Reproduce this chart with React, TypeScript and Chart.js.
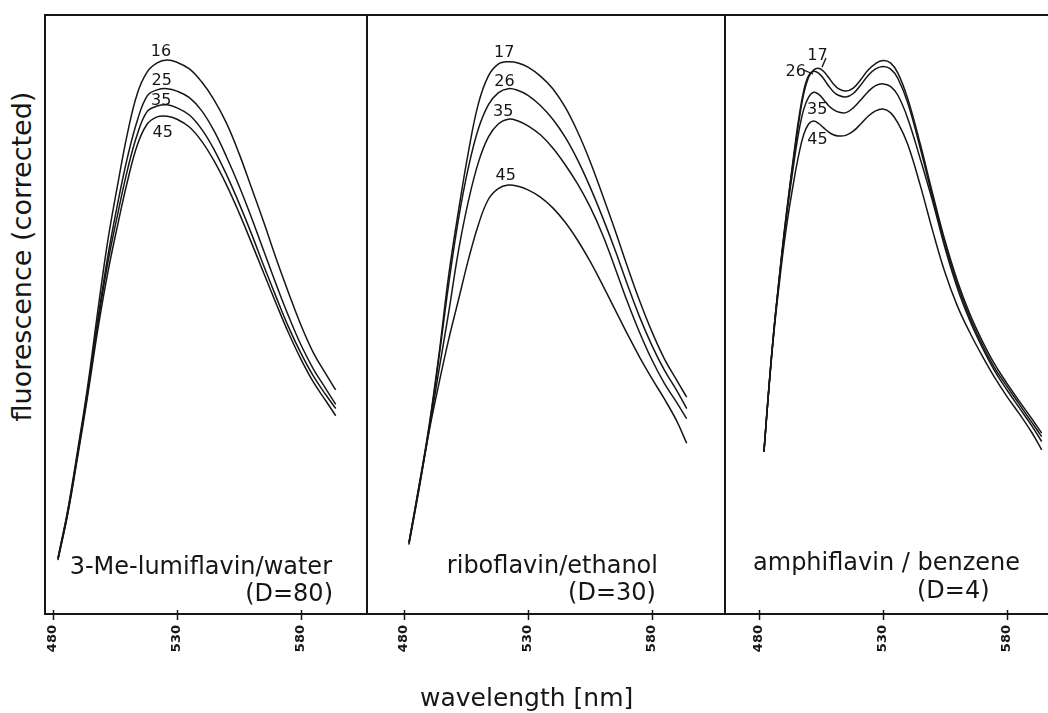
import React, { useEffect, useRef } from 'react';
import { Chart, registerables } from 'chart.js';

Chart.register(...registerables);

// ---------- text ----------
const Y_TITLE = 'fluorescence (corrected)';
const X_TITLE = 'wavelength [nm]';
const TICKS = [480, 530, 580];

// ---------- panel 1 : 3-Me-lumiflavin / water ----------
const WL_1 = [482, 486, 490, 494, 498, 502, 506, 510, 514, 518, 522, 526, 530, 535, 540, 545, 550, 555, 560, 565, 570, 575, 580, 585, 590, 594];
const P1_16 = [9.4, 17.5, 27.5, 38.1, 50.4, 62.1, 71.5, 80.2, 86.9, 90.5, 92.0, 92.5, 92.1, 91.0, 88.8, 85.8, 81.9, 76.9, 71.2, 65.4, 59.3, 53.6, 48.2, 43.6, 40.1, 37.4];
const P1_25 = [9.2, 17.2, 27.0, 37.4, 49.0, 59.5, 68.4, 76.2, 82.4, 86.5, 87.5, 87.7, 87.3, 86.2, 84.0, 80.6, 76.3, 71.5, 66.2, 60.6, 55.0, 49.7, 44.9, 40.9, 37.6, 35.0];
const P1_35 = [9.2, 17.0, 26.8, 37.0, 48.3, 58.4, 66.6, 74.1, 80.1, 83.9, 84.8, 85.0, 84.5, 83.3, 80.9, 77.5, 73.3, 68.6, 63.5, 58.1, 52.9, 47.9, 43.5, 39.7, 36.6, 34.3];
const P1_45 = [9.0, 16.8, 26.4, 36.5, 47.3, 56.8, 64.8, 72.2, 78.3, 81.8, 83.0, 83.1, 82.6, 81.3, 78.9, 75.6, 71.6, 67.0, 62.0, 56.9, 51.8, 46.9, 42.5, 38.7, 35.6, 33.1];
const P1_NAMES = ['16', '25', '35', '45'];
const P1_TAGS = [
  { text: '16', x: 523.5, y: 93.8 },
  { text: '25', x: 523.8, y: 89.0 },
  { text: '35', x: 523.6, y: 85.7 },
  { text: '45', x: 524.2, y: 80.3 },
];
const P1_CAPTION = [
  { text: '3-Me-lumiflavin/water', x: 592.5, y: 6.7, align: 'right' },
  { text: '(D=80)', x: 592.9, y: 2.2, align: 'right' },
];

// ---------- panel 2 : riboflavin / ethanol ----------
const WL_2 = [482, 486, 490, 494, 498, 502, 506, 510, 514, 518, 522, 526, 530, 535, 540, 545, 550, 555, 560, 565, 570, 575, 580, 585, 590, 594];
const P2_17 = [12.0, 21.3, 31.1, 43.0, 56.5, 67.4, 77.2, 85.2, 89.8, 91.8, 92.2, 92.0, 91.3, 89.8, 87.7, 84.6, 80.5, 75.6, 70.0, 64.2, 58.1, 52.3, 47.1, 42.6, 39.0, 36.2];
const P2_26 = [11.9, 21.1, 30.8, 42.5, 55.0, 66.0, 74.6, 81.0, 85.0, 87.0, 87.7, 87.4, 86.6, 84.9, 82.6, 79.6, 75.8, 71.3, 66.3, 60.9, 55.1, 49.6, 44.8, 40.7, 37.3, 34.3];
const P2_35 = [11.8, 20.9, 30.4, 40.5, 50.3, 60.7, 69.0, 75.4, 79.6, 81.8, 82.6, 82.3, 81.5, 80.0, 77.8, 75.0, 71.8, 68.0, 63.4, 57.9, 52.2, 47.0, 42.4, 38.5, 35.3, 32.6];
const P2_45 = [11.6, 20.7, 30.2, 38.3, 45.8, 52.5, 59.2, 65.0, 69.2, 71.0, 71.6, 71.4, 70.8, 69.6, 67.8, 65.4, 62.4, 58.9, 55.0, 50.9, 46.8, 42.9, 39.3, 35.9, 32.2, 28.5];
const P2_NAMES = ['17', '26', '35', '45'];
const P2_TAGS = [
  { text: '17', x: 520.4, y: 93.7 },
  { text: '26', x: 520.5, y: 88.9 },
  { text: '35', x: 520.0, y: 83.9 },
  { text: '45', x: 521.0, y: 73.2 },
];
const P2_CAPTION = [
  { text: 'riboflavin/ethanol', x: 582.4, y: 6.85, align: 'right' },
  { text: '(D=30)', x: 581.6, y: 2.34, align: 'right' },
];

// ---------- panel 3 : amphiflavin / benzene ----------
const WL_3 = [482, 484, 486, 488, 490, 492, 494, 496, 498, 500, 502, 504, 506, 508, 510, 512, 515, 518, 521, 524, 527, 530, 533, 536, 540, 545, 550, 555, 560, 565, 570, 575, 580, 585, 590, 594];
const P3_17 = [27.1, 37.9, 47.4, 55.4, 63.0, 69.8, 76.1, 82.0, 86.8, 89.6, 90.8, 91.1, 90.6, 89.6, 88.5, 87.7, 87.3, 87.8, 89.2, 90.8, 91.9, 92.4, 92.0, 90.3, 86.0, 78.5, 70.2, 62.3, 55.6, 50.1, 45.6, 41.7, 38.5, 35.5, 32.6, 30.2];
const P3_26 = [27.1, 37.9, 47.4, 55.5, 63.2, 70.1, 76.6, 82.6, 87.3, 89.9, 90.6, 90.3, 89.4, 88.2, 87.2, 86.6, 86.3, 86.9, 88.3, 89.9, 91.0, 91.4, 91.0, 89.4, 85.3, 77.8, 69.6, 61.7, 55.0, 49.5, 45.0, 41.1, 38.0, 35.0, 32.0, 29.6];
const P3_35 = [27.1, 37.9, 47.3, 55.2, 62.6, 69.2, 75.1, 80.4, 84.2, 86.3, 87.1, 86.8, 85.9, 84.9, 84.2, 83.8, 83.7, 84.5, 85.8, 87.2, 88.2, 88.5, 88.1, 86.6, 82.7, 76.0, 68.9, 61.1, 54.4, 49.0, 44.5, 40.6, 37.4, 34.4, 31.4, 28.8];
const P3_45 = [27.1, 37.6, 46.9, 54.5, 61.4, 67.2, 72.2, 76.6, 80.0, 81.8, 82.3, 81.9, 81.2, 80.5, 80.0, 79.8, 79.9, 80.6, 81.8, 83.1, 84.0, 84.3, 83.7, 82.0, 78.4, 71.6, 64.0, 57.0, 51.4, 47.0, 43.1, 39.5, 36.3, 33.4, 30.3, 27.4];
const P3_NAMES = ['17', '26', '35', '45'];
const P3_TAGS = [
  { text: '17', x: 503.6, y: 93.2 },
  { text: '26', x: 494.8, y: 90.5 },
  { text: '35', x: 503.5, y: 84.2 },
  { text: '45', x: 503.6, y: 79.2 },
];
const P3_LEADERS = [
  [498.1, 90.8, 501.8, 90.15],
  [507.0, 92.8, 505.4, 91.3],
];
const P3_CAPTION = [
  { text: 'amphiflavin / benzene', x: 477.6, y: 7.35, align: 'left' },
  { text: '(D=4)', x: 543.7, y: 2.67, align: 'left' },
];

type Tag = { text: string; x: number; y: number };
type Cap = { text: string; x: number; y: number; align: string };
type PanelCfg = {
  left: number;
  width: number;
  padL: number;
  padR: number;
  xMin: number;
  xMax: number;
  wl: number[];
  series: number[][];
  names: string[];
  tags: Tag[];
  caption: Cap[];
  leaders: number[][];
  drawRight: boolean;
};

const PANELS: PanelCfg[] = [
  { left: 40, width: 332, padL: 5, padR: 5, xMin: 476.77, xMax: 606.61, wl: WL_1, series: [P1_16, P1_25, P1_35, P1_45], names: P1_NAMES, tags: P1_TAGS, caption: P1_CAPTION, leaders: [], drawRight: true },
  { left: 362, width: 368, padL: 5, padR: 5, xMin: 465.08, xMax: 609.44, wl: WL_2, series: [P2_17, P2_26, P2_35, P2_45], names: P2_NAMES, tags: P2_TAGS, caption: P2_CAPTION, leaders: [], drawRight: true },
  { left: 720, width: 328, padL: 5, padR: 0, xMin: 466.29, xMax: 596.53, wl: WL_3, series: [P3_17, P3_26, P3_35, P3_45], names: P3_NAMES, tags: P3_TAGS, caption: P3_CAPTION, leaders: P3_LEADERS, drawRight: false },
];

const INK = '#161616';
const FONT = '"DejaVu Sans", "Liberation Sans", sans-serif';

function makeDecor(cfg: PanelCfg) {
  return {
    id: 'panelDecor',
    afterDraw(chart: any) {
      const { ctx, chartArea: a, scales } = chart;
      const xs = scales.x;
      const ys = scales.y;
      ctx.save();
      ctx.strokeStyle = INK;
      ctx.lineCap = 'square';
      ctx.lineWidth = 2;
      ctx.beginPath();
      ctx.moveTo(a.left, a.bottom);
      ctx.lineTo(a.left, a.top);
      ctx.lineTo(a.right, a.top);
      if (cfg.drawRight) ctx.lineTo(a.right, a.bottom);
      ctx.moveTo(a.left, a.bottom);
      ctx.lineTo(a.right, a.bottom);
      ctx.stroke();

      ctx.lineWidth = 1.5;
      ctx.lineCap = 'butt';
      ctx.beginPath();
      for (const t of TICKS) {
        const px = Math.round(xs.getPixelForValue(t)) + 0.5;
        ctx.moveTo(px, a.bottom - 4);
        ctx.lineTo(px, a.bottom + 6);
      }
      ctx.stroke();

      ctx.fillStyle = INK;
      ctx.font = `16px ${FONT}`;
      ctx.textAlign = 'center';
      ctx.textBaseline = 'middle';
      for (const t of cfg.tags) {
        ctx.fillText(t.text, xs.getPixelForValue(t.x), ys.getPixelForValue(t.y));
      }

      ctx.lineWidth = 1.3;
      for (const l of cfg.leaders) {
        ctx.beginPath();
        ctx.moveTo(xs.getPixelForValue(l[0]), ys.getPixelForValue(l[1]));
        ctx.lineTo(xs.getPixelForValue(l[2]), ys.getPixelForValue(l[3]));
        ctx.stroke();
      }

      ctx.font = `24px ${FONT}`;
      ctx.textBaseline = 'alphabetic';
      for (const c of cfg.caption) {
        ctx.textAlign = c.align as CanvasTextAlign;
        ctx.fillText(c.text, xs.getPixelForValue(c.x), ys.getPixelForValue(c.y));
      }
      ctx.restore();
    },
  };
}

function Panel({ cfg }: { cfg: PanelCfg }) {
  const ref = useRef<HTMLCanvasElement | null>(null);
  useEffect(() => {
    if (!ref.current) return;
    const chart = new Chart(ref.current, {
      type: 'line',
      data: {
        datasets: cfg.series.map((vals, i) => ({
          label: cfg.names[i],
          data: cfg.wl.map((x, j) => ({ x, y: vals[j] })),
          borderColor: INK,
          borderWidth: 1.5,
          pointRadius: 0,
          fill: false,
          tension: 0.4,
        })),
      },
      options: {
        animation: false,
        responsive: false,
        devicePixelRatio: 1,
        layout: { padding: { left: cfg.padL, right: cfg.padR, top: 6, bottom: 0 } },
        plugins: { legend: { display: false }, tooltip: { enabled: false }, title: { display: false } },
        scales: {
          x: {
            type: 'linear',
            min: cfg.xMin,
            max: cfg.xMax,
            afterBuildTicks: (s: any) => {
              s.ticks = TICKS.map((v) => ({ value: v }));
            },
            afterFit: (s: any) => {
              s.height = 60;
            },
            grid: { display: true, drawOnChartArea: false, drawTicks: true, tickLength: 6, color: 'rgba(0,0,0,0)' },
            border: { display: false },
            ticks: {
              autoSkip: false,
              minRotation: 90,
              maxRotation: 90,
              padding: 5,
              color: INK,
              font: { family: FONT, size: 13, weight: 'bold' },
              callback: (v: any) => String(v),
            },
          },
          y: { type: 'linear', min: 0, max: 100, display: false },
        },
      },
      plugins: [makeDecor(cfg)],
    } as any);
    return () => chart.destroy();
  }, [cfg]);
  return (
    <canvas
      ref={ref}
      width={cfg.width}
      height={665}
      style={{ position: 'absolute', left: cfg.left, top: 9, width: cfg.width, height: 665 }}
    />
  );
}

export default function App() {
  return (
    <div
      style={{
        position: 'absolute',
        left: 0,
        top: 0,
        width: 1048,
        height: 713,
        overflow: 'hidden',
        background: '#fff',
        fontFamily: FONT,
        color: INK,
      }}
    >
      {PANELS.map((p, i) => (
        <Panel key={i} cfg={p} />
      ))}
      <div
        style={{
          position: 'absolute',
          left: 21 - 200,
          top: 256 - 13.5,
          width: 400,
          height: 27,
          lineHeight: '27px',
          fontSize: 27,
          textAlign: 'center',
          whiteSpace: 'nowrap',
          transform: 'rotate(-90deg)',
          transformOrigin: '50% 50%',
        }}
      >
        {Y_TITLE}
      </div>
      <div
        style={{
          position: 'absolute',
          left: 420,
          top: 685,
          lineHeight: '25px',
          fontSize: 25,
          whiteSpace: 'nowrap',
        }}
      >
        {X_TITLE}
      </div>
    </div>
  );
}
